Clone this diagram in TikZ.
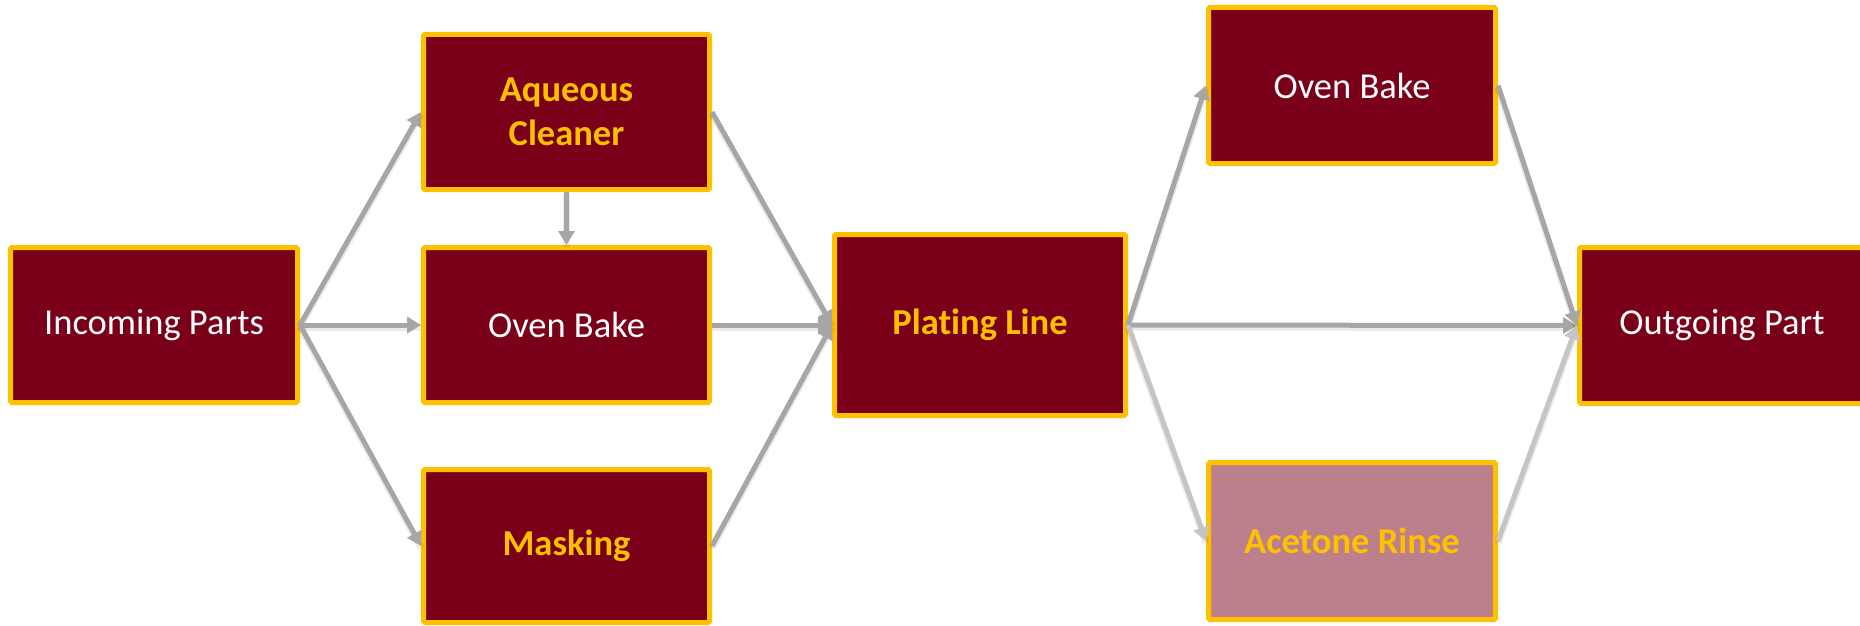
\documentclass[tikz,border=0pt]{standalone}
\usepackage{fontspec}
\setmainfont[Ligatures=NoCommon]{Carlito}
\usetikzlibrary{arrows.meta}
\definecolor{maroon}{HTML}{7A0019}
\definecolor{gold}{HTML}{FFC000}
\definecolor{agray}{HTML}{A6A6A6}
\tikzset{
  box/.style={draw=gold, line width=5pt, fill=maroon, rounded corners=1.5pt,
    inner sep=0pt, align=center, font=\fontsize{36.5}{44}\selectfont},
  wtext/.style={text=white},
  gtext/.style={text=gold, font=\fontsize{36.5}{44}\selectfont\bfseries},
  flow/.style={draw=agray, line width=5pt, -{Triangle[length=14pt,width=16pt]},
    preaction={draw=black, draw opacity=0.08, line width=7pt, transform canvas={yshift=-2pt}, -}},
  lightflow/.style={flow, draw=agray!65},
}
\begin{document}
\begin{tikzpicture}[x=1pt,y=-1pt]
\useasboundingbox (0,0) rectangle (1860,626);
\node[box, wtext, minimum width=287pt, minimum height=155pt] (inc) at (154,325) {Incoming Parts};
\node[box, gtext, minimum width=286pt, minimum height=155pt] (aq) at (566.5,112) {Aqueous\\Cleaner};
\node[box, wtext, minimum width=286pt, minimum height=155pt] (ovm) at (566.5,325) {Oven Bake};
\node[box, gtext, minimum width=286pt, minimum height=153pt] (mask) at (566.5,546) {Masking};
\node[box, gtext, minimum width=291pt, minimum height=181pt] (plat) at (980,325) {Plating Line};
\node[box, wtext, minimum width=287pt, minimum height=156pt] (ovt) at (1352,85.5) {Oven Bake};
\node[box, gtext, fill=maroon!50, minimum width=287pt, minimum height=157pt] (ace) at (1352,541) {Acetone Rinse};
\node[box, wtext, minimum width=285pt, minimum height=156pt] (out) at (1722,325.5) {Outgoing Part};

\draw[flow] (inc.east) -- (aq.west);
\draw[flow] (inc.east) -- (ovm.west);
\draw[flow] (inc.east) -- (mask.west);
\draw[flow] (aq.south) -- (ovm.north);
\draw[flow] (aq.east) -- (plat.west);
\draw[flow] (ovm.east) -- (plat.west);
\draw[flow] (mask.east) -- (plat.west);
\draw[flow] (plat.east) -- (ovt.west);
\draw[flow] (plat.east) -- (out.west);
\draw[lightflow] (plat.east) -- (ace.west);
\draw[flow] (ovt.east) -- (out.west);
\draw[lightflow] (ace.east) -- (out.west);
\end{tikzpicture}
\end{document}
